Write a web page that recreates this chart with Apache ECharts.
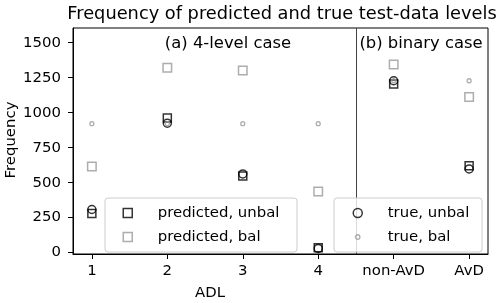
<!DOCTYPE html>
<html><head><meta charset="utf-8">
<script src="https://cdn.jsdelivr.net/npm/echarts@6/dist/echarts.min.js"></script>
<style>html,body{margin:0;padding:0;background:#fff}#c{width:500px;height:303px}</style>
</head><body><div id="c"></div>
<script>
var categories = ['1', '2', '3', '4', 'non-AvD', 'AvD'];
var predictedUnbal = [280, 962, 548, 35, 1205, 620];
var predictedBal = [615, 1321, 1302, 436, 1345, 1112];
var trueUnbal = [308, 925, 562, 30, 1228, 598];
var trueBal = [921, 921, 921, 921, 1228, 1228];
var yTicks = [0, 250, 500, 750, 1000, 1250, 1500];
var xTicks = [1, 2, 3, 4, 5, 6];

function pts(arr) { return arr.map(function (v, i) { return [i + 1, v]; }); }
var FONT = 'DejaVu Sans';
var FS = 14.9;

function leg(name, icon, cx, cy, s, col, bw) {
  return {
    data: [{ name: name, icon: icon, itemStyle: { color: 'rgba(0,0,0,0)', borderColor: col, borderWidth: bw } }],
    left: cx - s / 2, top: cy - 9, itemWidth: s, itemHeight: s, padding: 0, z: 20,
    selectedMode: false, orient: 'vertical',
    textStyle: { fontFamily: FONT, fontSize: FS, color: '#000', padding: [0, 0, 0, 30 - s / 2 - 5], height: 18, lineHeight: 18 }
  };
}

var chart = echarts.init(document.getElementById('c'));
chart.setOption({
  animation: false,
  title: {
    text: 'Frequency of predicted and true test-data levels',
    left: 277, top: 0, textAlign: 'center',
    textStyle: { fontFamily: FONT, fontSize: 17.8, fontWeight: 'normal', color: '#000' }
  },
  grid: { left: 73, right: 12, top: 28, bottom: 49, show: true, borderColor: '#000', borderWidth: 1, backgroundColor: 'transparent' },
  xAxis: {
    type: 'value', min: 0.75, max: 6.25,
    axisLine: { show: true, onZero: false, lineStyle: { color: '#000', width: 1 } },
    axisTick: { show: true, customValues: xTicks, length: 5, lineStyle: { color: '#000' } },
    axisLabel: { customValues: xTicks, margin: 10, fontFamily: FONT, fontSize: FS, color: '#000',
      formatter: function (v) { return categories[Math.round(v) - 1] || ''; } },
    splitLine: { show: false }
  },
  yAxis: {
    type: 'value', min: -10, max: 1605,
    axisLine: { show: true, onZero: false, lineStyle: { color: '#000', width: 1 } },
    axisTick: { show: true, customValues: yTicks, length: 5, lineStyle: { color: '#000' } },
    axisLabel: { customValues: yTicks, margin: 12, fontFamily: FONT, fontSize: FS, color: '#000',
      formatter: function (v) { return String(v); } },
    splitLine: { show: false }
  },
  legend: [
    leg('predicted, unbal', 'rect', 127, 213, 9, '#000', 1.5),
    leg('predicted, bal', 'rect', 127, 237, 9, '#999', 1.5),
    leg('true, unbal', 'circle', 357, 213, 9, '#000', 1.5),
    leg('true, bal', 'circle', 357, 237, 4.5, '#999', 1.3)
  ],
  graphic: [
    { type: 'rect', z: 15, shape: { x: 105, y: 198, width: 192, height: 54, r: 3 },
      style: { fill: 'rgba(255,255,255,0.8)', stroke: '#ccc', lineWidth: 1 } },
    { type: 'rect', z: 15, shape: { x: 334, y: 198, width: 148, height: 54, r: 3 },
      style: { fill: 'rgba(255,255,255,0.8)', stroke: '#ccc', lineWidth: 1 } },
    { type: 'text', z: 15, x: 228, y: 44, style: { text: '(a) 4-level case', fontFamily: FONT, fontSize: 16.4, fill: '#000', align: 'center', verticalAlign: 'middle' } },
    { type: 'text', z: 15, x: 421, y: 44, style: { text: '(b) binary case', fontFamily: FONT, fontSize: 16.4, fill: '#000', align: 'center', verticalAlign: 'middle' } },
    { type: 'text', z: 15, x: 210, y: 293, style: { text: 'ADL', fontFamily: FONT, fontSize: FS, fill: '#000', align: 'center', verticalAlign: 'middle' } },
    { type: 'text', z: 15, x: 11, y: 140, rotation: Math.PI / 2, style: { text: 'Frequency', fontFamily: FONT, fontSize: FS, fill: '#000', align: 'center', verticalAlign: 'middle' } }
  ],
  series: [
    { name: 'predicted, unbal', type: 'scatter', data: pts(predictedUnbal), symbol: 'rect', symbolSize: 8,
      itemStyle: { color: 'rgba(0,0,0,0)', borderColor: '#000', borderWidth: 1.5 }, z: 4,
      markLine: { silent: true, symbol: 'none', label: { show: false }, lineStyle: { color: '#444', width: 1, type: 'solid' }, data: [{ xAxis: 4.5 }] } },
    { name: 'predicted, bal', type: 'scatter', data: pts(predictedBal), symbol: 'rect', symbolSize: 8.5,
      itemStyle: { color: 'rgba(0,0,0,0)', borderColor: '#999', borderWidth: 1.5 }, z: 3 },
    { name: 'true, unbal', type: 'scatter', data: pts(trueUnbal), symbol: 'circle', symbolSize: 8,
      itemStyle: { color: 'rgba(0,0,0,0)', borderColor: '#000', borderWidth: 1.5 }, z: 5 },
    { name: 'true, bal', type: 'scatter', data: pts(trueBal), symbol: 'circle', symbolSize: 4,
      itemStyle: { color: 'rgba(0,0,0,0)', borderColor: '#999', borderWidth: 1.3 }, z: 6 }
  ]
});
</script></body></html>
